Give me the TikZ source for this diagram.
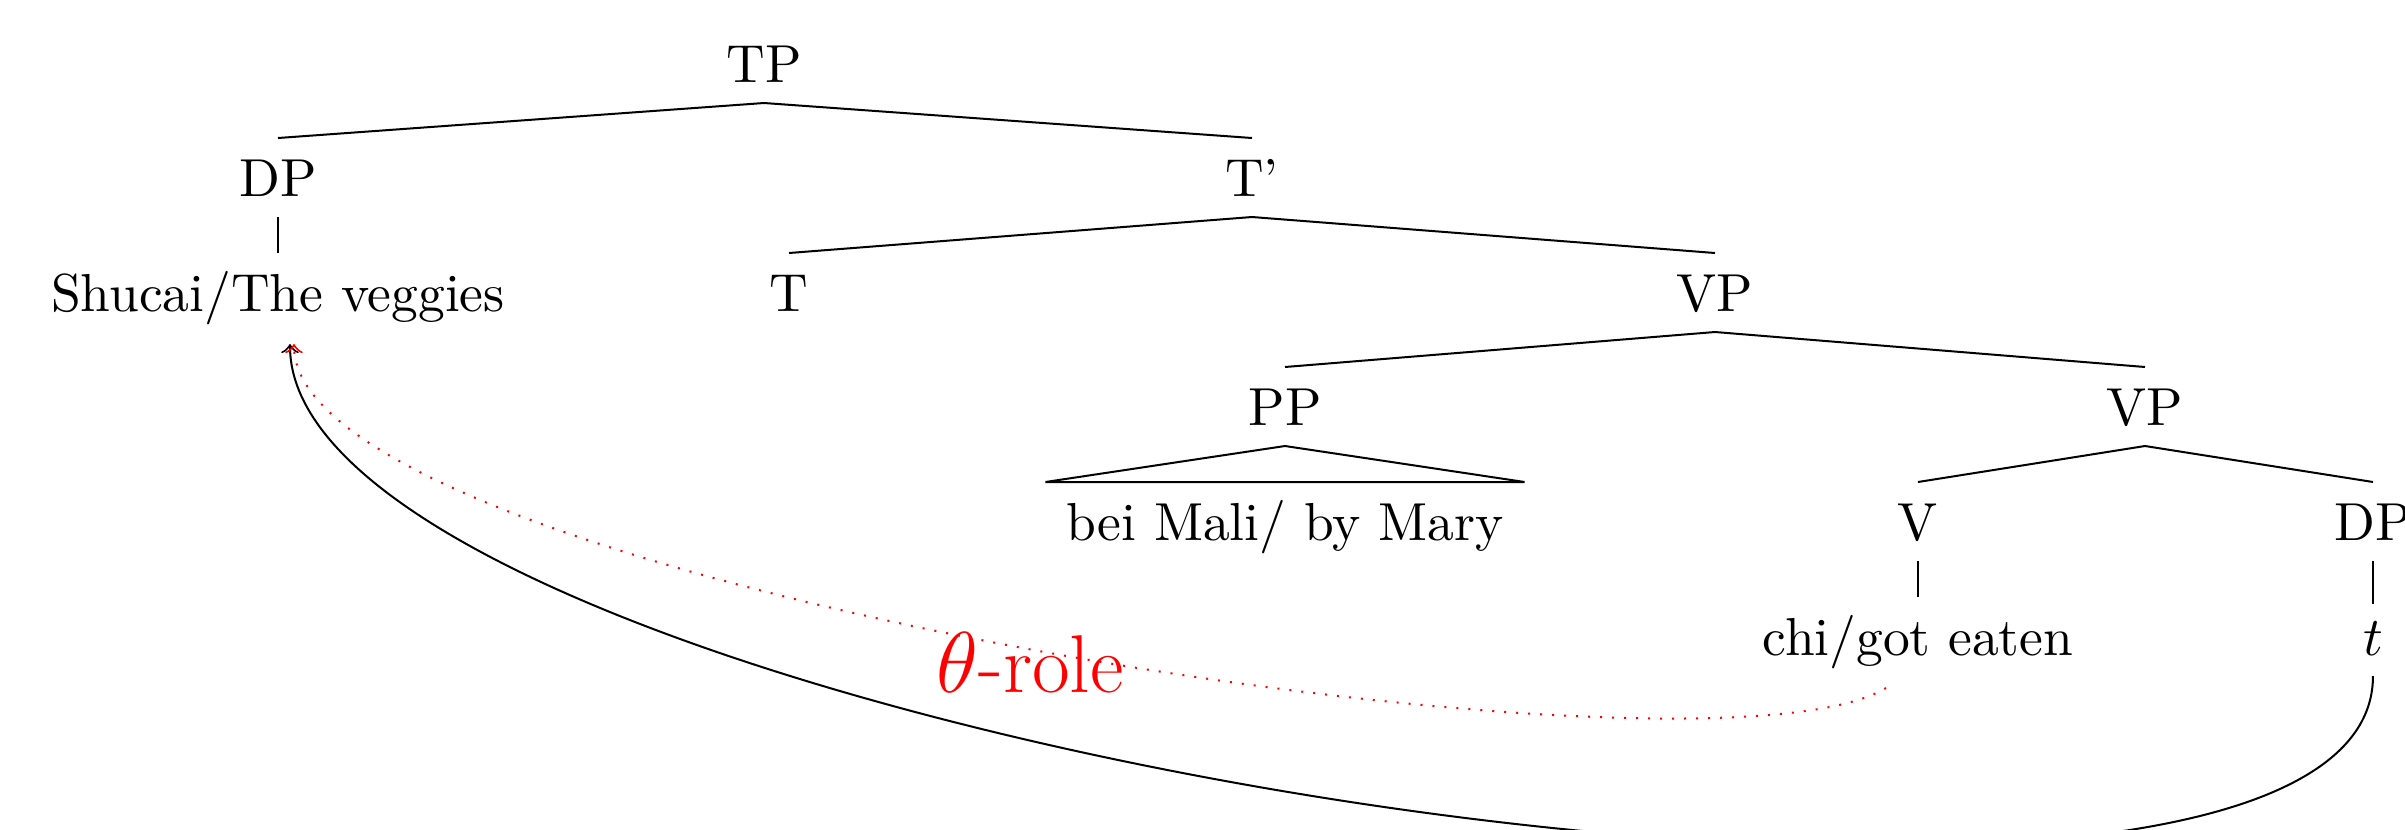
\documentclass[tikz,border=0pt]{standalone}
\usetikzlibrary{calc}
\begin{document}
\begin{tikzpicture}[x=0.2pt,y=-0.2pt,
  tn/.style={font=\fontsize{10.7}{12}\selectfont, text height=7.4pt, text depth=0pt, inner xsep=4pt, inner ysep=4pt, anchor=base},
  br/.style={line width=0.4pt},
  mv/.style={->, line width=0.4pt},
  th/.style={->, red, dotted, line width=0.4pt},
  lab/.style={font=\fontsize{16.4}{18}\selectfont, text=red, anchor=base, inner sep=0pt}]
\clip (0,0) rectangle (2405,829);
% nodes
\node[tn] (TP)  at (764,82)  {TP};
\node[tn] (DP)  at (278,196) {DP};
\node[tn] (Tb)  at (1252,196) {T'};
\node[tn] (shu) at (278,311) {Shucai/The veggies};
\node[tn] (T)   at (789,311) {T};
\node[tn] (VP)  at (1715,311) {VP};
\node[tn] (PP)  at (1285,425) {PP};
\node[tn] (VPb) at (2145,425) {VP};
\node[tn] (bei) at (1285,540) {bei Mali/ by Mary};
\node[tn] (V)   at (1918,540) {V};
\node[tn] (DPb) at (2373,540) {DP};
\node[tn] (chi) at (1918,655) {chi/got eaten};
\node[tn, text height=6pt] (t) at (2373,655) {$t$};
\node[lab] (role) at (1030,692) {$\theta$-role};
% branches
\draw[br] (DP.north) -- (TP.south) -- (Tb.north);
\draw[br] (DP.south) -- (shu.north);
\draw[br] (T.north) -- (Tb.south) -- (VP.north);
\draw[br] (PP.north) -- (VP.south) -- (VPb.north);
\draw[br] (bei.north west) -- (PP.south) -- (bei.north east) -- cycle;
\draw[br] (V.north) -- (VPb.south) -- (DPb.north);
\draw[br] (V.south) -- (chi.north);
\draw[br] (DPb.south) -- (t.north);
% movement arrows
\draw[mv] (t.south) .. controls +(0,382) and +(0,388) .. ($(shu.south)+(12,12)$);
\draw[th] ($(chi.south)+(-32,12)$) .. controls +(-186,113) and +(0,237) .. ($(shu.south)+(16,12)$);
\end{tikzpicture}
\end{document}
